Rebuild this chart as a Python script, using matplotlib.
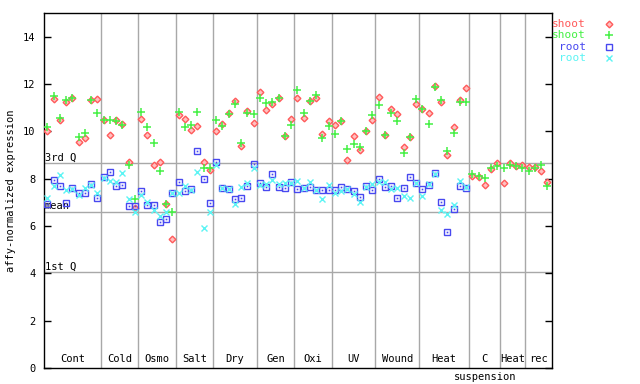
import numpy as np
import matplotlib
matplotlib.use("Agg")
import matplotlib.pyplot as plt
from matplotlib.lines import Line2D

plt.rcParams['font.family'] = ['DejaVu Sans Mono']
plt.rcParams['font.size'] = 7.5

# groups along the x axis (sample counts per condition)
groups = ['Cont', 'Cold', 'Osmo', 'Salt', 'Dry', 'Gen', 'Oxi', 'UV', 'Wound', 'Heat',
          'C\nsuspension', 'Heat', 'rec']
group_sizes = [9, 6, 6, 6, 7, 6, 6, 7, 7, 8, 5, 4, 4]

shoot_red = [10.02, 11.37, 10.50, 11.24, 11.41, 9.57, 9.71, 11.34, 11.37,
             10.49, 9.86, 10.50, 10.32, 8.70, 6.75,
             10.53, 9.84, 8.59, 8.70, 6.92, 5.46,
             10.67, 10.52, 10.05, 10.24, 8.70, 8.36,
             10.02, 10.31, 10.77, 11.29, 9.39, 10.88, 10.35,
             11.66, 10.91, 11.15, 11.41, 9.79, 10.53,
             11.41, 10.56, 11.27, 11.41, 9.90, 10.42,
             10.28, 10.42, 8.77, 9.81, 9.22, 10.00, 10.46,
             11.45, 9.86, 10.96, 10.73, 9.33, 9.74, 11.15,
             10.94, 10.77, 11.93, 11.24, 9.01, 10.18, 11.34, 11.83,
             8.13, 8.05, 7.74, 8.40, 8.66,
             7.81, 8.66, 8.54, 8.56,
             8.49, 8.49, 8.31, 7.88]

shoot_green = [10.18, 11.49, 10.56, 11.34, 11.41, 9.74, 9.93, 11.34, 10.77,
               10.49, 10.49, 10.45, 10.28, 8.59, 7.15,
               10.81, 10.18, 9.50, 8.31, 6.92, 6.59,
               10.81, 10.18, 10.28, 10.81, 8.45, 8.45,
               10.49, 10.21, 10.75, 11.15, 9.50, 10.77, 10.73,
               11.41, 11.20, 11.24, 11.41, 9.81, 10.25,
               11.76, 10.77, 11.27, 11.55, 9.71, 10.21,
               9.89, 10.42, 9.26, 9.46, 9.32, 10.00, 10.67,
               11.10, 9.84, 10.77, 10.45, 9.08, 9.74, 11.38,
               10.94, 10.30, 11.86, 11.34, 9.19, 9.93, 11.24, 11.24,
               8.19, 8.13, 8.02, 8.45, 8.54,
               8.45, 8.59, 8.54, 8.47,
               8.31, 8.45, 8.59, 7.67]

root_blue = [6.92, 7.95, 7.70, 6.99, 7.60, 7.39, 7.39, 7.77, 7.20,
             8.05, 8.28, 7.70, 7.74, 6.85, 6.85,
             7.49, 6.87, 6.90, 6.19, 6.30, 7.39,
             7.85, 7.50, 7.56, 9.17, 7.98, 6.96,
             8.70, 7.62, 7.56, 7.15, 7.18, 7.70, 8.63,
             7.81, 7.64, 8.19, 7.64, 7.60, 7.85,
             7.56, 7.60, 7.64, 7.52, 7.52, 7.52,
             7.52, 7.64, 7.56, 7.49, 7.22, 7.70, 7.52,
             8.00, 7.64, 7.70, 7.18, 7.60, 8.06, 7.81,
             7.56, 7.74, 8.23, 7.01, 5.75, 6.71, 7.70, 7.60]

root_cyan = [7.18, 7.70, 8.16, 7.52, 7.55, 7.32, 7.60, 7.74, 7.39,
             8.02, 7.91, 7.87, 8.25, 7.13, 6.59,
             7.32, 7.01, 6.68, 6.44, 6.59, 7.39,
             7.39, 7.67, 7.53, 8.28, 5.91, 6.61,
             8.59, 7.62, 7.56, 6.94, 7.63, 7.81, 8.45,
             7.74, 7.77, 7.95, 7.77, 7.81, 7.81,
             7.91, 7.60, 7.84, 7.52, 7.13, 7.74,
             7.39, 7.46, 7.56, 7.36, 7.01, 7.64, 7.78,
             7.88, 7.84, 7.56, 7.60, 7.26, 7.18, 7.81,
             7.28, 7.77, 8.20, 6.68, 6.50, 6.90, 7.91, 7.64]

q3_val, mean_val, q1_val = 8.67, 6.60, 4.06

RED, GREEN, BLUE, CYAN = '#ff5a5a', '#44f044', '#4848f0', '#5cf4f4'
GRID = '#a8a8a8'

fig = plt.figure(figsize=(6.4, 3.84), dpi=100)
ax = fig.add_axes([44/640, 16/384, 508/640, 355/384])

x_shoot = np.arange(len(shoot_red))
x_root = np.arange(len(root_blue))

# group separators
bounds = np.cumsum(group_sizes)[:-1] - 0.5
for b in bounds:
    ax.axvline(b, color=GRID, lw=1, zorder=1)

for val, lab in [(q3_val, '3rd Q'), (mean_val, 'mean'), (q1_val, '1st Q')]:
    ax.axhline(val, color=GRID, lw=1, zorder=1)
    ax.text(-0.45, val + 0.02, lab, ha='left', va='bottom', zorder=2)

red_mk = dict(marker='D', ms=3.4, mfc='#ffc0c0', mec=RED, mew=1)
green_mk = dict(marker='+', ms=6, mec=GREEN, mew=1.1)
blue_mk = dict(marker='s', ms=4.3, mfc='none', mec=BLUE, mew=1)
cyan_mk = dict(marker='x', ms=4.3, mec=CYAN, mew=1)

ax.plot(x_shoot, shoot_red, ls='none', zorder=3, **red_mk)
ax.plot(x_shoot, shoot_green, ls='none', zorder=4, **green_mk)
ax.plot(x_root, root_blue, ls='none', zorder=5, **blue_mk)
ax.plot(x_root, root_blue, ls='none', marker='s', ms=1.2, mfc=BLUE, mec=BLUE, mew=0, zorder=5)
ax.plot(x_root, root_cyan, ls='none', zorder=6, **cyan_mk)

ax.set_xlim(-0.55, 80.75)
ax.set_ylim(0, 15)
ax.set_yticks(np.arange(0, 15, 2))
ax.set_xticks([])
ax.tick_params(axis='y', direction='in', length=5, width=1, right=True, labelsize=7.5, pad=6)
for s in ax.spines.values():
    s.set_linewidth(1)
ax.set_ylabel('affy-normalized expression', fontsize=7.5, labelpad=5)

# group labels along the bottom
edges = np.concatenate([[-0.55], bounds, [80.75]])
for i, g in enumerate(groups):
    c = (edges[i] + edges[i + 1]) / 2
    if '\n' in g:
        top, bot = g.split('\n')
        ax.text(c, 0.15, top, ha='center', va='bottom')
        ax.text(c, -0.38, bot, ha='center', va='center', clip_on=False)
    else:
        ax.text(c, 0.15, g, ha='center', va='bottom')

# legend outside at top right
legend_items = [('shoot', RED, red_mk), ('shoot', GREEN, green_mk),
                ('root', BLUE, blue_mk), ('root', CYAN, cyan_mk)]
for i, (lab, col, mk) in enumerate(legend_items):
    yy = 1 - (24 + i * 11.3) / 384
    fig.text(586/640, yy, lab, color=col, ha='right', va='center', fontsize=8)
    fig.add_artist(Line2D([609/640], [yy], ls='none', transform=fig.transFigure, **mk))

fig.savefig('out.png', dpi=100)
